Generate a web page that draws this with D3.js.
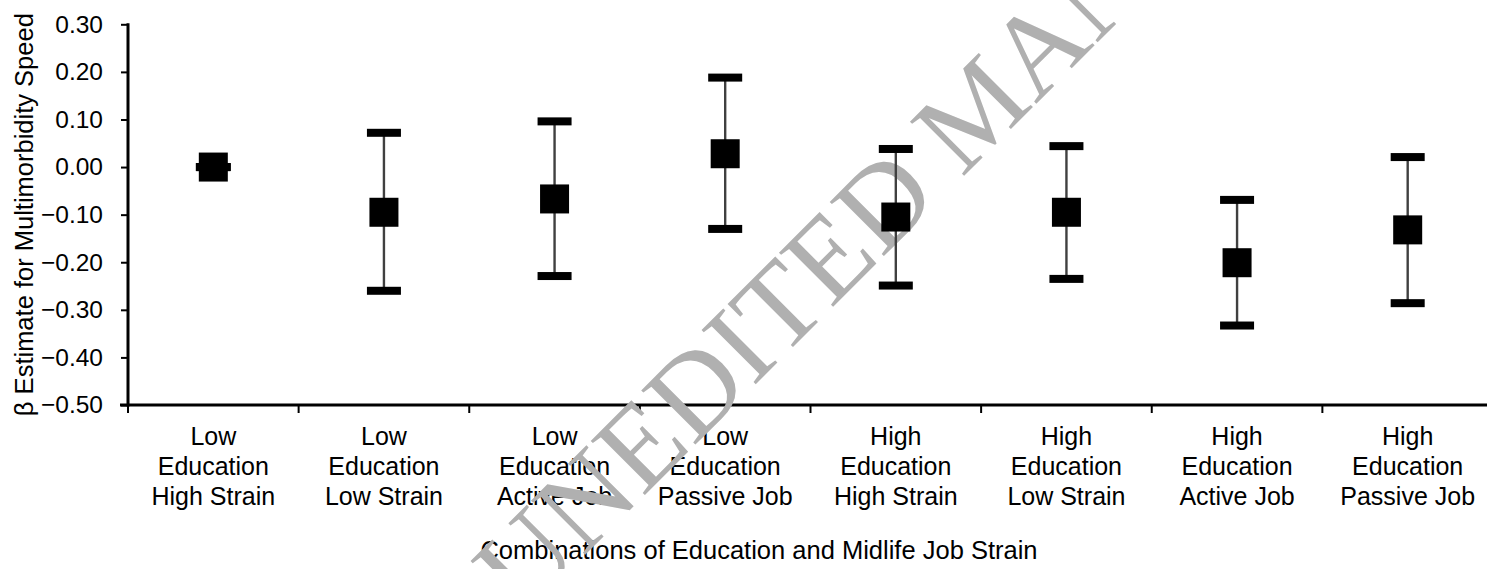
<!DOCTYPE html>
<html>
<head>
<meta charset="utf-8">
<script src="https://cdn.jsdelivr.net/npm/d3@7"></script>
<style>
  html, body { margin: 0; padding: 0; background: #fff; }
  svg { display: block; }
  .lbl { font-family: "Liberation Sans", Arial, sans-serif; fill: #000; }
  .wm { font-family: "Liberation Serif", "Times New Roman", serif; fill: #b0b0b0; }
</style>
</head>
<body>
<svg id="chart" width="1487" height="569"></svg>
<script>
// Education x midlife job strain groups (one label line per entry)
const categories = [
  ["Low", "Education", "High Strain"],
  ["Low", "Education", "Low Strain"],
  ["Low", "Education", "Active Job"],
  ["Low", "Education", "Passive Job"],
  ["High", "Education", "High Strain"],
  ["High", "Education", "Low Strain"],
  ["High", "Education", "Active Job"],
  ["High", "Education", "Passive Job"]
];
// β estimates and 95% confidence limits
const beta  = [0, -0.095, -0.067, 0.028, -0.105, -0.095, -0.201, -0.132];
const lower = [0, -0.260, -0.229, -0.130, -0.249, -0.235, -0.333, -0.286];
const upper = [0,  0.072,  0.096, 0.188,  0.038,  0.044, -0.069,  0.021];
const yTicks = [0.30, 0.20, 0.10, 0.00, -0.10, -0.20, -0.30, -0.40, -0.50];

const svg = d3.select("#chart");
const plotL = 128, plotR = 1493, plotT = 24.3, plotB = 405;

const x = d3.scaleBand().domain(d3.range(categories.length)).range([plotL, plotR]).padding(0);
const y = d3.scaleLinear().domain([-0.5, 0.3]).range([plotB, plotT]);

const rows = categories.map((c, i) => ({ i, b: beta[i], lo: lower[i], hi: upper[i] }));

// y axis ticks and labels
const yAxis = d3.axisLeft(y).tickValues(yTicks).tickFormat(d3.format(".2f"))
  .tickSize(7).tickSizeOuter(0).tickPadding(18);
const gy = svg.append("g").attr("transform", `translate(${plotL},0)`).call(yAxis);
gy.select(".domain").remove();
gy.selectAll(".tick line").attr("stroke", "#000").attr("stroke-width", 2);
gy.selectAll(".tick text").attr("class", "lbl").attr("font-size", 24.5);

// category boundary ticks on the x axis
const bounds = d3.range(categories.length + 1).map(k => plotL + k * x.bandwidth());
svg.append("g").attr("transform", `translate(0,${plotB})`)
  .selectAll("line").data(bounds).join("line")
  .attr("x1", d => d).attr("x2", d => d).attr("y1", 0).attr("y2", 8)
  .attr("stroke", "#000").attr("stroke-width", 2);

// axis lines
svg.append("line").attr("x1", plotL).attr("x2", plotL).attr("y1", plotT - 1).attr("y2", plotB + 1.5)
  .attr("stroke", "#000").attr("stroke-width", 3);
svg.append("line").attr("x1", plotL - 8).attr("x2", 1487).attr("y1", plotB).attr("y2", plotB)
  .attr("stroke", "#000").attr("stroke-width", 3);

// category labels
const lab = svg.append("g");
categories.forEach((lines, i) => {
  const cxl = x(i) + x.bandwidth() / 2;
  const t = lab.append("text").attr("class", "lbl").attr("text-anchor", "middle").attr("font-size", 25)
    .attr("x", cxl).attr("y", 445);
  lines.forEach((s, k) => t.append("tspan").attr("x", cxl).attr("dy", k === 0 ? 0 : 30).text(s));
});

// axis titles
svg.append("text").attr("class", "lbl").attr("text-anchor", "middle").attr("font-size", 25.5)
  .attr("x", 759).attr("y", 559).text("Combinations of Education and Midlife Job Strain");
svg.append("text").attr("class", "lbl").attr("text-anchor", "middle").attr("font-size", 25.5)
  .attr("transform", `translate(33,${(plotT + plotB) / 2}) rotate(-90)`)
  .text("β Estimate for Multimorbidity Speed");

// watermark, over the labels but beneath the error bars
svg.append("text").attr("class", "wm").attr("font-size", 117)
  .attr("transform", "translate(523,617) rotate(-45)")
  .text("UNEDITED MANUSCRIPT");

// error bars
const cx = d => x(d.i) + x.bandwidth() / 2;
const g = svg.append("g");
g.selectAll("line.stem").data(rows).join("line").attr("class", "stem")
  .attr("x1", cx).attr("x2", cx).attr("y1", d => y(d.hi)).attr("y2", d => y(d.lo))
  .attr("stroke", "#404040").attr("stroke-width", 2.4);
const capW = 34, capH = 8;
g.selectAll("rect.hiCap").data(rows).join("rect").attr("class", "hiCap")
  .attr("x", d => cx(d) - capW / 2).attr("y", d => y(d.hi) - capH / 2)
  .attr("width", capW).attr("height", capH).attr("fill", "#000");
g.selectAll("rect.loCap").data(rows).join("rect").attr("class", "loCap")
  .attr("x", d => cx(d) - capW / 2).attr("y", d => y(d.lo) - capH / 2)
  .attr("width", capW).attr("height", capH).attr("fill", "#000");
// point estimates
const m = 29;
g.selectAll("rect.pt").data(rows).join("rect").attr("class", "pt")
  .attr("x", d => cx(d) - m / 2).attr("y", d => y(d.b) - m / 2)
  .attr("width", m).attr("height", m).attr("fill", "#000");
// cap drawn over the marker when the interval collapses to the estimate
g.selectAll("rect.flat").data(rows.filter(d => d.hi === d.lo)).join("rect").attr("class", "flat")
  .attr("x", d => cx(d) - 35 / 2).attr("y", d => y(d.b) - capH / 2)
  .attr("width", 35).attr("height", capH).attr("fill", "#000");
</script>
</body>
</html>
